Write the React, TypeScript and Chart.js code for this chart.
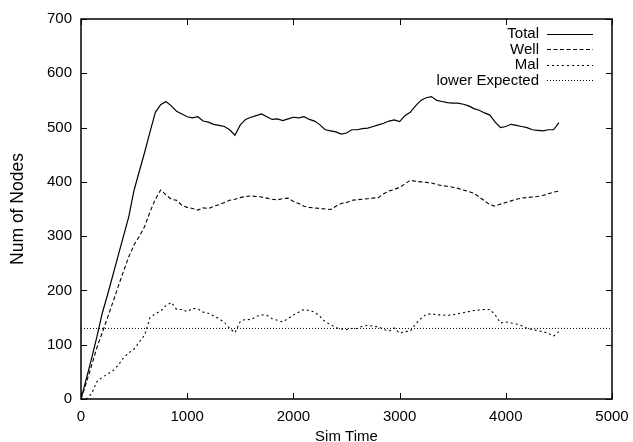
import React, { useEffect, useRef } from "react";
import { Chart, registerables } from "chart.js";

Chart.register(...registerables);

const simTime = [
  0, 50, 100, 150, 200, 250, 300, 350, 400, 450, 500, 550, 600, 650, 700, 750, 800, 850, 900, 950,
  1000, 1050, 1100, 1150, 1200, 1250, 1300, 1350, 1400, 1450, 1500, 1550, 1600, 1650, 1700, 1750, 1800, 1850, 1900, 1950,
  2000, 2050, 2100, 2150, 2200, 2250, 2300, 2350, 2400, 2450, 2500, 2550, 2600, 2650, 2700, 2750, 2800, 2850, 2900, 2950,
  3000, 3050, 3100, 3150, 3200, 3250, 3300, 3350, 3400, 3450, 3500, 3550, 3600, 3650, 3700, 3750, 3800, 3850, 3900, 3950,
  4000, 4050, 4100, 4150, 4200, 4250, 4300, 4350, 4400, 4450, 4500,
];

const totalNodes = [
  0, 37, 75, 115, 158, 192, 228, 264, 300, 336, 385, 420, 455, 492, 528, 542, 548, 540, 530, 525,
  520, 518, 520, 512, 510, 506, 504, 502, 496, 486, 505, 515, 519, 522, 525, 520, 515, 516, 513, 516,
  519, 518, 520, 515, 512, 505, 496, 494, 492, 488, 490, 496, 496, 498, 499, 502, 505, 508, 512, 514,
  511, 522, 528, 540, 550, 555, 557, 550, 548, 546, 545, 545, 543, 540, 535, 532, 527, 523, 510, 500,
  502, 506, 504, 502, 500, 496, 495, 494, 496, 496, 509,
];

const wellNodes = [
  0, 30, 62, 95, 122, 150, 178, 207, 235, 262, 284, 300, 318, 345, 368, 385, 376, 368, 366, 357,
  353, 351, 348, 352, 351, 355, 358, 362, 366, 368, 371, 373, 374, 373, 372, 370, 368, 367, 369, 370,
  364, 360, 355, 353, 352, 351, 350, 349, 355, 360, 362, 366, 367, 368, 369, 370, 371, 378, 383, 386,
  390, 396, 403, 401, 400, 399, 398, 395, 393, 392, 390, 388, 385, 382, 379, 372, 365, 358, 355, 359,
  362, 365, 368, 370, 371, 372, 373, 375, 378, 381, 383,
];

const malNodes = [
  0, 0, 10, 32, 40, 46, 52, 62, 76, 85, 92, 105, 118, 150, 157, 162, 172, 178, 165, 165,
  161, 167, 166, 160, 158, 153, 148, 141, 130, 122, 143, 147, 146, 152, 155, 154, 148, 145, 142, 148,
  155, 160, 165, 163, 160, 152, 142, 137, 131, 129, 128, 130, 130, 134, 136, 134, 133, 128, 125, 131,
  121, 124, 125, 138, 148, 156, 157, 155, 155, 154, 155, 157, 159, 161, 163, 164, 165, 165, 155, 140,
  142, 140, 138, 135, 130, 128, 126, 124, 121, 116, 124,
];

const expectedTime = [0, 5000];
const lowerExpected = [130, 130];

const seriesLabels = ["Total", "Well", "Mal", "lower Expected"];
const xTicks = [0, 1000, 2000, 3000, 4000, 5000];
const yTicks = [0, 100, 200, 300, 400, 500, 600, 700];

const FONT = "'Liberation Sans', Arial, Helvetica, sans-serif";

const framePlugin = {
  id: "gnuFrame",
  afterDraw(chart: any) {
    const { ctx, chartArea } = chart;
    const { left, right, top, bottom } = chartArea;
    const xs = chart.scales.x;
    const ys = chart.scales.y;
    ctx.save();
    ctx.strokeStyle = "#000";
    ctx.lineWidth = 1.5;
    ctx.setLineDash([]);
    ctx.strokeRect(left, top, right - left, bottom - top);
    ctx.lineWidth = 1;
    const tl = 6;
    ctx.beginPath();
    xTicks.forEach((v) => {
      const px = Math.round(xs.getPixelForValue(v)) + 0.5;
      ctx.moveTo(px, bottom);
      ctx.lineTo(px, bottom - tl);
      ctx.moveTo(px, top);
      ctx.lineTo(px, top + tl);
    });
    yTicks.forEach((v) => {
      const py = Math.round(ys.getPixelForValue(v)) + 0.5;
      ctx.moveTo(left, py);
      ctx.lineTo(left + tl, py);
      ctx.moveTo(right, py);
      ctx.lineTo(right - tl, py);
    });
    ctx.stroke();

    // legend (top-right, gnuplot style)
    const textRight = 539;
    const lineStart = 547;
    const lineEnd = 593;
    const rowY0 = 33.5;
    const rowStep = 15.6;
    ctx.font = `15px ${FONT}`;
    ctx.textAlign = "right";
    ctx.textBaseline = "middle";
    ctx.fillStyle = "#000";
    chart.data.datasets.forEach((ds: any, i: number) => {
      const y = rowY0 + i * rowStep;
      ctx.fillText(ds.label, textRight, y + 0.5);
      ctx.beginPath();
      ctx.strokeStyle = ds.borderColor;
      ctx.lineWidth = ds.borderWidth;
      ctx.setLineDash(ds.borderDash || []);
      ctx.moveTo(lineStart, Math.round(y) + 0.5);
      ctx.lineTo(lineEnd, Math.round(y) + 0.5);
      ctx.stroke();
    });
    ctx.restore();
  },
};

export default function App() {
  const canvasRef = useRef<HTMLCanvasElement | null>(null);

  useEffect(() => {
    document.body.style.margin = "0";
    const canvas = canvasRef.current;
    if (!canvas) return;
    const pts = (xs: number[], ys: number[]) => xs.map((x, i) => ({ x, y: ys[i] }));
    const chart = new Chart(canvas, {
      type: "line",
      data: {
        datasets: [
          {
            label: seriesLabels[0],
            data: pts(simTime, totalNodes),
            borderColor: "#000",
            borderWidth: 1.2,
            borderDash: [],
            pointRadius: 0,
            tension: 0,
          },
          {
            label: seriesLabels[1],
            data: pts(simTime, wellNodes),
            borderColor: "#000",
            borderWidth: 1.1,
            borderDash: [4, 2.5],
            pointRadius: 0,
            tension: 0,
          },
          {
            label: seriesLabels[2],
            data: pts(simTime, malNodes),
            borderColor: "#000",
            borderWidth: 1.1,
            borderDash: [2, 3],
            pointRadius: 0,
            tension: 0,
          },
          {
            label: seriesLabels[3],
            data: pts(expectedTime, lowerExpected),
            borderColor: "#000",
            borderWidth: 1,
            borderDash: [1, 2],
            pointRadius: 0,
            tension: 0,
          },
        ],
      },
      options: {
        responsive: false,
        animation: false,
        devicePixelRatio: 1,
        layout: { padding: { left: 0, right: 21, top: 19, bottom: 0 } },
        plugins: {
          legend: { display: false },
          tooltip: { enabled: false },
        },
        scales: {
          x: {
            type: "linear",
            min: 0,
            max: 5000,
            afterFit: (s: any) => {
              s.height = 43;
              s.paddingLeft = 0;
              s.paddingRight = 0;
            },
            afterBuildTicks: (s: any) => {
              s.ticks = xTicks.map((v) => ({ value: v }));
            },
            grid: { display: false, drawTicks: false },
            border: { display: false },
            ticks: {
              padding: 9,
              color: "#000",
              font: { family: FONT, size: 15 },
              maxRotation: 0,
              callback: (v: any) => String(v),
            },
            title: {
              display: true,
              text: "Sim Time",
              color: "#000",
              font: { family: FONT, size: 15, lineHeight: 1 },
              padding: { top: 0, bottom: -2.5 },
            },
          },
          y: {
            type: "linear",
            min: 0,
            max: 700,
            afterFit: (s: any) => {
              s.width = 81;
              s.paddingTop = 0;
              s.paddingBottom = 0;
            },
            afterBuildTicks: (s: any) => {
              s.ticks = yTicks.map((v) => ({ value: v }));
            },
            grid: { display: false, drawTicks: false },
            border: { display: false },
            ticks: {
              padding: 9,
              color: "#000",
              font: { family: FONT, size: 15 },
              callback: (v: any) => String(v),
            },
            title: {
              display: true,
              text: "Num of Nodes",
              color: "#000",
              font: { family: FONT, size: 17.5, lineHeight: 1.2 },
              padding: { top: 8, bottom: 0 },
            },
          },
        },
      },
      plugins: [framePlugin],
    });
    return () => chart.destroy();
  }, []);

  return (
    <div style={{ width: 633, height: 442 }}>
      <canvas ref={canvasRef} width={633} height={442} style={{ display: "block" }} />
    </div>
  );
}
